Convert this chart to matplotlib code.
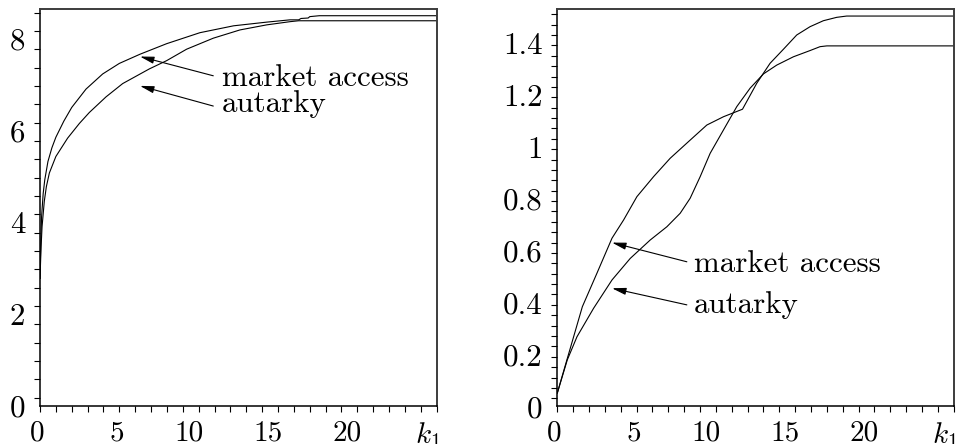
import numpy as np
import matplotlib
matplotlib.use("Agg")
import matplotlib.pyplot as plt
from matplotlib.transforms import ScaledTranslation

plt.rcParams['font.family'] = 'cmr10'
plt.rcParams['mathtext.fontset'] = 'cm'
plt.rcParams['axes.unicode_minus'] = False

# ---------------- data: left panel ----------------
k_left_market = [0.0, 0.05, 0.1, 0.2, 0.3, 0.5, 0.75, 1.0, 1.5, 2.0, 2.9, 3.95, 5.0, 6.3,
                 7.98, 10.08, 12.2, 14.28, 15.75, 16.3, 16.45, 16.9, 17.0, 17.6, 25.0]
left_market = [2.6, 3.4, 3.95, 4.45, 4.75, 5.15, 5.45, 5.68, 6.03, 6.33, 6.73, 7.06, 7.29, 7.49,
               7.72, 7.96, 8.11, 8.19, 8.24, 8.24, 8.27, 8.28, 8.31, 8.33, 8.33]
k_left_autarky = [0.0, 0.07, 0.13, 0.27, 0.4, 0.59, 1.0, 1.74, 2.48, 3.11, 4.16, 5.21, 6.89,
                  7.98, 9.24, 10.92, 12.6, 14.28, 15.75, 16.3, 25.0]
left_autarky = [2.6, 3.3, 3.73, 4.28, 4.6, 4.90, 5.26, 5.66, 5.98, 6.22, 6.56, 6.85, 7.17,
                7.35, 7.60, 7.84, 8.02, 8.13, 8.20, 8.22, 8.22]

# ---------------- data: right panel ----------------
k_right_market = [0.0, 0.42, 1.58, 2.5, 3.45, 4.18, 5.02, 6.07, 7.12, 8.38, 9.43, 10.48,
                  11.68, 12.58, 13.42, 14.26, 15.1, 15.94, 16.78, 17.62, 18.25, 25.0]
right_market = [0.02, 0.109, 0.353, 0.482, 0.617, 0.687, 0.777, 0.854, 0.925, 0.995, 1.053,
                1.085, 1.114, 1.214, 1.291, 1.345, 1.40, 1.432, 1.455, 1.468, 1.473, 1.473]
k_right_autarky = [0.0, 0.63, 1.24, 2.29, 3.45, 4.6, 5.86, 6.91, 7.75, 8.38, 9.01, 9.64,
                   10.48, 11.32, 12.16, 13.0, 13.84, 14.89, 15.94, 16.57, 17.0, 25.0]
right_autarky = [0.02, 0.148, 0.237, 0.347, 0.456, 0.539, 0.61, 0.661, 0.713, 0.771, 0.854,
                 0.944, 1.034, 1.124, 1.195, 1.25, 1.284, 1.316, 1.34, 1.355, 1.358, 1.358]

# ---------------- ticks / labels ----------------
x_ticks = [0, 5, 10, 15, 20, 25]
x_ticklabels = ['0', '5', '10', '15', '20', r'$k_1$']
left_yticks = [0, 2, 4, 6, 8]
left_yticklabels = ['0', '2', '4', '6', '8']
right_yticks = [0, 0.2, 0.4, 0.6, 0.8, 1.0, 1.2, 1.4]
right_yticklabels = ['0', '0.2', '0.4', '0.6', '0.8', '1', '1.2', '1.4']

FS = 22.3
FSX = 21.0

fig = plt.figure(figsize=(9.57, 4.44), dpi=100)
axL = fig.add_axes([40 / 957, (444 - 405.7) / 444, (436.7 - 40) / 957, (405.7 - 9.3) / 444])
axR = fig.add_axes([557.3 / 957, (444 - 406) / 444, (953.7 - 557.3) / 957, (406 - 9.3) / 444])


def style(ax, ylim, yticks, ylabels, yminor):
    ax.set_xlim(0, 25)
    ax.set_ylim(*ylim)
    ax.set_xticks(x_ticks)
    ax.set_xticklabels(x_ticklabels, fontsize=FSX)
    ax.set_xticks(np.arange(0, 26, 1), minor=True)
    ax.set_yticks(yticks)
    ax.set_yticklabels(ylabels, fontsize=FS)
    ax.set_yticks(yminor, minor=True)
    ax.tick_params(which='both', direction='out', length=4.6, width=0.8, color='black')
    ax.tick_params(axis='x', which='major', pad=5.5)
    ax.tick_params(axis='y', which='major', pad=6)
    for s in ['left', 'bottom']:
        ax.spines[s].set_linewidth(1.1)
        ax.spines[s].set_color('black')
    for s in ['top', 'right']:
        ax.spines[s].set_linewidth(1.4)
        ax.spines[s].set_color('#3c3c3c')
    for lab in ax.get_xticklabels():
        lab.set_horizontalalignment('right')
        lab.set_transform(lab.get_transform() + ScaledTranslation(0.045, 0, fig.dpi_scale_trans))
    for lab in ax.get_yticklabels():
        lab.set_verticalalignment('top')
        lab.set_transform(lab.get_transform() + ScaledTranslation(0, 0.03, fig.dpi_scale_trans))


style(axL, (-0.175, 8.47), left_yticks, left_yticklabels, np.arange(0, 8.41, 0.4))
style(axR, (-0.0297, 1.499), right_yticks, right_yticklabels, np.arange(0, 1.481, 0.04))

axL.plot(k_left_market, left_market, color='black', lw=0.8)
axL.plot(k_left_autarky, left_autarky, color='black', lw=0.8)
axR.plot(k_right_market, right_market, color='black', lw=0.8)
axR.plot(k_right_autarky, right_autarky, color='black', lw=0.8)

ap = dict(arrowstyle='-|>,head_length=0.6,head_width=0.15', color='black', lw=0.8,
          mutation_scale=14, shrinkA=0, shrinkB=0)

# left annotations
axL.annotate('', xy=(6.3, 7.44), xytext=(10.92, 7.02), arrowprops=ap)
axL.annotate('', xy=(6.3, 6.80), xytext=(10.92, 6.36), arrowprops=ap)
axL.text(11.45, 6.80, 'market access', fontsize=FS, ha='left', va='baseline')
axL.text(11.45, 6.24, 'autarky', fontsize=FS, ha='left', va='baseline')

# right annotations
axR.annotate('', xy=(3.45, 0.600), xytext=(8.17, 0.526), arrowprops=ap)
axR.annotate('', xy=(3.45, 0.424), xytext=(8.17, 0.36), arrowprops=ap)
axR.text(8.6, 0.488, 'market access', fontsize=FS, ha='left', va='baseline')
axR.text(8.6, 0.328, 'autarky', fontsize=FS, ha='left', va='baseline')

fig.savefig('out.png', dpi=100)
